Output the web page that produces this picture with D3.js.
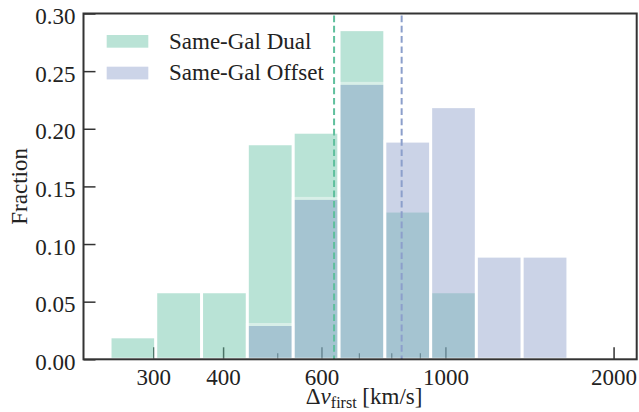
<!DOCTYPE html>
<html>
<head>
<meta charset="utf-8">
<script src="https://cdn.jsdelivr.net/npm/d3@7"></script>
<style>
  body { margin: 0; background: #fff; }
</style>
</head>
<body>
<div id="canvas"></div>
<script>
// histogram bin edges in km/s (log spaced)
var binEdges = [251, 303, 366, 442, 534, 645, 779, 941, 1136, 1372, 1657];
var dualFrac   = [0.0195, 0.0586, 0.0586, 0.187, 0.197, 0.286, 0.1286, 0.0586, 0, 0];
var offsetFrac = [0, 0, 0, 0.0302, 0.1396, 0.2394, 0.1893, 0.2192, 0.0895, 0.0895];
var medians = {dual: 632, offset: 835};
var xMajor = [300, 400, 600, 1000, 2000];
var xMinor = [500, 700, 800, 900];
var yTicks = [0, 0.05, 0.10, 0.15, 0.20, 0.25, 0.30];
var seriesNames = ['Same-Gal Dual', 'Same-Gal Offset'];

var dualColor = '#66c2a5', offsetColor = '#8da0cb';
var serif = '"Liberation Serif", "Times New Roman", "DejaVu Serif", serif';

var pLeft = 83.5, pRight = 636.7, pTop = 13.5, pBottom = 359.3;

var svg = d3.select('#canvas').append('svg')
  .attr('width', 639)
  .attr('height', 412)
  .style('font-family', serif);

var x = d3.scaleLog().domain([225, 2200]).range([pLeft, pRight]);
var y = d3.scaleLinear().domain([0, 0.30]).range([pBottom, pTop]);

// ticks first, bars go over them
var xAxis = svg.append('g')
  .attr('transform', 'translate(0,' + pBottom + ')')
  .call(d3.axisBottom(x).tickValues(xMajor).tickFormat(d3.format('d'))
    .tickSizeInner(-12).tickSizeOuter(0));
xAxis.attr('font-family', null).attr('font-size', null);
xAxis.select('.domain').remove();
xAxis.selectAll('line').attr('stroke', '#333').attr('stroke-width', 1.5);
xAxis.selectAll('text')
  .attr('y', 25.7).attr('dy', null)
  .style('font-family', serif)
  .style('font-size', '23px').attr('fill', '#222');

var xAxisMinor = svg.append('g')
  .attr('transform', 'translate(0,' + pBottom + ')')
  .call(d3.axisBottom(x).tickValues(xMinor).tickFormat('')
    .tickSizeInner(-6).tickSizeOuter(0));
xAxisMinor.select('.domain').remove();
xAxisMinor.selectAll('line').attr('stroke', '#333').attr('stroke-width', 1.2);

var yAxis = svg.append('g')
  .attr('transform', 'translate(' + pLeft + ',0)')
  .call(d3.axisLeft(y).tickValues(yTicks).tickFormat(d3.format('.2f'))
    .tickSizeInner(-12).tickSizeOuter(0).tickPadding(8));
yAxis.attr('font-family', null).attr('font-size', null);
yAxis.select('.domain').remove();
yAxis.selectAll('line').attr('stroke', '#333').attr('stroke-width', 1.5);
yAxis.selectAll('text')
  .attr('dy', '0.44em')
  .style('font-family', serif)
  .style('font-size', '23px').attr('fill', '#222');

// bars
function drawBars(vals, color) {
  svg.append('g').selectAll('rect')
    .data(vals.map(function(v, i) { return {v: v, x0: binEdges[i], x1: binEdges[i + 1]}; })
      .filter(function(d) { return d.v > 0; }))
    .enter().append('rect')
    .attr('x', function(d) { return x(d.x0); })
    .attr('width', function(d) { return x(d.x1) - x(d.x0); })
    .attr('y', function(d) { return y(d.v); })
    .attr('height', function(d) { return y(0) - y(d.v); })
    .attr('fill', color)
    .attr('stroke', 'white')
    .attr('stroke-width', 3)
    .attr('opacity', 0.45);
}
drawBars(dualFrac, dualColor);
drawBars(offsetFrac, offsetColor);

// median lines
[[medians.dual, '#5fbf9d'], [medians.offset, '#8c9fcb']].forEach(function(m) {
  svg.append('line')
    .attr('x1', x(m[0])).attr('x2', x(m[0]))
    .attr('y1', pTop + 2).attr('y2', pBottom)
    .attr('stroke', m[1])
    .attr('stroke-width', 2)
    .attr('stroke-dasharray', '6.7,3.6');
});

// frame
svg.append('rect')
  .attr('x', pLeft).attr('y', pTop)
  .attr('width', pRight - pLeft).attr('height', pBottom - pTop)
  .attr('fill', 'none')
  .attr('stroke', '#333')
  .attr('stroke-width', 2);

// legend
var legend = svg.append('g');
[dualColor, offsetColor].forEach(function(c, i) {
  legend.append('rect')
    .attr('x', 106.7).attr('y', 35 + i * 31.7)
    .attr('width', 41.6).attr('height', 12.7)
    .attr('fill', c).attr('opacity', 0.45);
  legend.append('text')
    .attr('x', 169).attr('y', 49.3 + i * 31)
    .attr('fill', '#222')
    .style('font-size', '23px')
    .text(seriesNames[i]);
});

// axis labels
var xl = svg.append('text')
  .attr('x', (pLeft + pRight) / 2 + 4).attr('y', 404)
  .attr('text-anchor', 'middle')
  .attr('fill', '#222')
  .style('font-size', '23px');
xl.append('tspan').text('\u0394');
xl.append('tspan').style('font-style', 'italic').text('\u03bd');
xl.append('tspan').attr('dy', 4).style('font-size', '16px').text('first');
xl.append('tspan').attr('dy', -4).text(' [km/s]');

svg.append('text')
  .attr('transform', 'translate(27,' + (pTop + pBottom) / 2 + ') rotate(-90)')
  .attr('text-anchor', 'middle')
  .attr('fill', '#222')
  .style('font-size', '23px')
  .text('Fraction');
</script>
</body>
</html>
